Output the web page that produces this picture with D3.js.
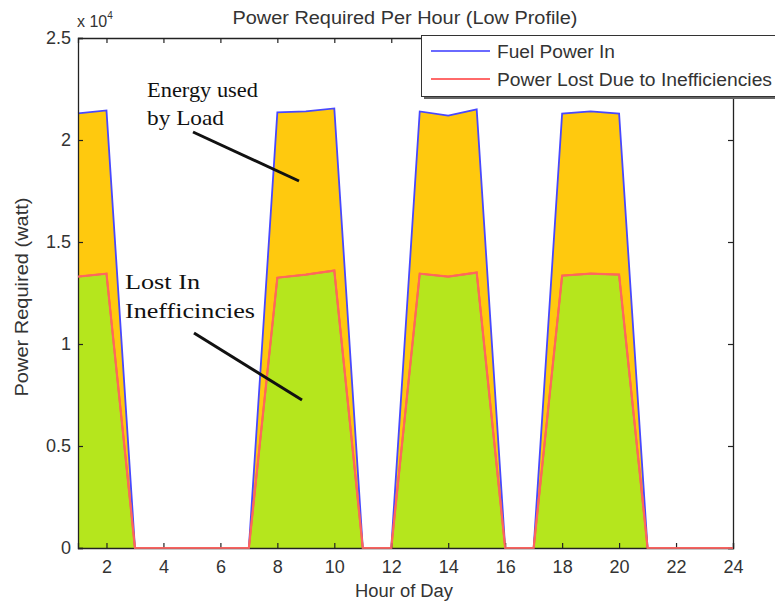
<!DOCTYPE html>
<html>
<head>
<meta charset="utf-8">
<script src="https://cdn.jsdelivr.net/npm/d3@7"></script>
<style>
  html, body { margin: 0; padding: 0; background: #fff; }
  svg { display: block; }
</style>
</head>
<body>
<svg id="chart" width="775" height="606"></svg>
<script>
// Hourly power profile (watts)
const hours = d3.range(1, 25);
const fuelPowerIn = [21300, 21450, 0, 0, 0, 0, 0, 21350, 21400, 21550, 0, 0,
                     21400, 21200, 21500, 0, 0, 21300, 21400, 21300, 0, 0, 0, 0];
const powerLost   = [13300, 13450, 0, 0, 0, 0, 0, 13250, 13400, 13600, 0, 0,
                     13450, 13300, 13500, 0, 0, 13350, 13450, 13400, 0, 0, 0, 0];
const xTicks = [2, 4, 6, 8, 10, 12, 14, 16, 18, 20, 22, 24];
const yTicks = [0, 5000, 10000, 15000, 20000, 25000];
const seriesNames = ["Fuel Power In", "Power Lost Due to Inefficiencies"];

const svg = d3.select("#chart");
const plot = { left: 78, right: 733, top: 38, bottom: 548 };

const x = d3.scaleLinear().domain([1, 24]).range([plot.left, plot.right]);
const y = d3.scaleLinear().domain([0, 25000]).range([plot.bottom, plot.top]);

const fuel = hours.map((h, i) => ({ h, v: fuelPowerIn[i] }));
const lost = hours.map((h, i) => ({ h, v: powerLost[i] }));

const area = d3.area().x(d => x(d.h)).y0(y(0)).y1(d => y(d.v));
const line = d3.line().x(d => x(d.h)).y(d => y(d.v));

// Filled regions: total fuel power, with losses drawn over it
svg.append("path").datum(fuel).attr("d", area).attr("fill", "#ffc90e");
svg.append("path").datum(lost).attr("d", area).attr("fill", "#b5e61d");

// Series lines
svg.append("path").datum(fuel).attr("d", line)
  .attr("fill", "none").attr("stroke", "#4848ff").attr("stroke-width", 1.8);
svg.append("path").datum(lost).attr("d", line)
  .attr("fill", "none").attr("stroke", "#ff4a20").attr("stroke-width", 1.8);

// Axes box with inward ticks on all four sides
const axisColor = "#222";
const sans = "Liberation Sans, Arial, sans-serif";

const gB = svg.append("g").attr("transform", `translate(0,${plot.bottom})`)
  .call(d3.axisBottom(x).tickValues(xTicks).tickSize(-5).tickPadding(12).tickFormat(d3.format("d")));
const gT = svg.append("g").attr("transform", `translate(0,${plot.top})`)
  .call(d3.axisTop(x).tickValues(xTicks).tickSize(-5).tickFormat(""));
const gL = svg.append("g").attr("transform", `translate(${plot.left},0)`)
  .call(d3.axisLeft(y).tickValues(yTicks).tickSize(-5).tickPadding(7)
    .tickFormat(d => d3.format("")(d / 10000)));
const gR = svg.append("g").attr("transform", `translate(${plot.right},0)`)
  .call(d3.axisRight(y).tickValues(yTicks).tickSize(-5).tickFormat(""));

[gB, gT, gL, gR].forEach(g => {
  g.select(".domain").attr("stroke", axisColor).attr("stroke-width", 1.3);
  g.selectAll(".tick line").attr("stroke", axisColor).attr("stroke-width", 1.2);
  g.selectAll(".tick text").attr("fill", "#333").style("font-family", sans)
    .style("font-size", "18px");
});

// Zero-level loss line runs over the axis baseline
svg.append("path").datum(lost).attr("d", line)
  .attr("fill", "none").attr("stroke", "#ff6a6a").attr("stroke-width", 2.2)
  .attr("opacity", 0.85);

// Exponent label
const expo = svg.append("text").attr("x", 77).attr("y", 27)
  .attr("fill", "#333").style("font-family", sans).style("font-size", "16px");
expo.append("tspan").text("x 10");
expo.append("tspan").attr("dy", -8).style("font-size", "10px").text("4");

// Title and axis titles
svg.append("text").attr("x", 405).attr("y", 24).attr("text-anchor", "middle")
  .attr("fill", "#333").style("font-family", sans).style("font-size", "18px")
  .attr("textLength", 345).attr("lengthAdjust", "spacingAndGlyphs")
  .text("Power Required Per Hour (Low Profile)");
svg.append("text").attr("x", 404).attr("y", 597).attr("text-anchor", "middle")
  .attr("fill", "#333").style("font-family", sans).style("font-size", "18px")
  .attr("textLength", 98).attr("lengthAdjust", "spacingAndGlyphs")
  .text("Hour of Day");
svg.append("text").attr("transform", "translate(28,297) rotate(-90)")
  .attr("text-anchor", "middle")
  .attr("fill", "#333").style("font-family", sans).style("font-size", "18px")
  .attr("textLength", 199).attr("lengthAdjust", "spacingAndGlyphs")
  .text("Power Required (watt)");

// Legend
const lg = svg.append("g");
lg.append("rect").attr("x", 424).attr("y", 38).attr("width", 360).attr("height", 61)
  .attr("fill", "#666");
lg.append("rect").attr("x", 421.5).attr("y", 35.5).attr("width", 360).attr("height", 61)
  .attr("fill", "#fff").attr("stroke", "#333").attr("stroke-width", 1);
const legendColors = ["#6a6aff", "#ff6a6a"];
const legendWidths = [118, 275];
seriesNames.forEach((name, i) => {
  const ly = 51 + i * 28;
  lg.append("line").attr("x1", 431).attr("x2", 490).attr("y1", ly).attr("y2", ly)
    .attr("stroke", legendColors[i]).attr("stroke-width", 2.2);
  lg.append("text").attr("x", 497).attr("y", ly + 7).attr("fill", "#333")
    .style("font-family", sans).style("font-size", "18px")
    .attr("textLength", legendWidths[i]).attr("lengthAdjust", "spacingAndGlyphs")
    .text(name);
});

// Annotations
const serif = "Liberation Serif, Times New Roman, serif";
const notes = [
  { text: "Energy used", x: 147, y: 97, w: 111 },
  { text: "by Load", x: 147, y: 125, w: 77 },
  { text: "Lost In", x: 125, y: 289, w: 75 },
  { text: "Inefficincies", x: 125, y: 318, w: 130 }
];
svg.append("g").selectAll("text").data(notes).join("text")
  .attr("x", d => d.x).attr("y", d => d.y)
  .attr("textLength", d => d.w).attr("lengthAdjust", "spacingAndGlyphs")
  .attr("fill", "#111").style("font-family", serif).style("font-size", "22px")
  .text(d => d.text);

svg.append("line").attr("x1", 193).attr("y1", 132).attr("x2", 299).attr("y2", 181)
  .attr("stroke", "#111").attr("stroke-width", 3);
svg.append("line").attr("x1", 194).attr("y1", 333).attr("x2", 302).attr("y2", 400)
  .attr("stroke", "#111").attr("stroke-width", 3);
</script>
</body>
</html>
